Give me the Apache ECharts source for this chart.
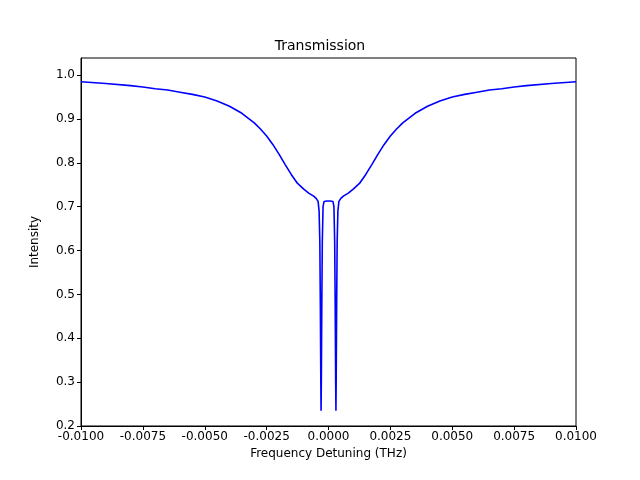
<!DOCTYPE html>
<html><head><meta charset="utf-8">
<script src="https://cdn.jsdelivr.net/npm/echarts@6/dist/echarts.min.js"></script>
<style>html,body{margin:0;padding:0;background:#fff}#c{width:640px;height:480px}</style>
</head><body><div id="c"></div>
<script>
const freq = [-0.01,-0.009,-0.008,-0.0075,-0.007,-0.0065,-0.006,-0.0055,-0.005,-0.0045,-0.004,-0.0035,-0.003,-0.00275,-0.0025,-0.00225,-0.002,-0.00175,-0.0015,-0.00125,-0.001,-0.0008,-0.0006,-0.0005,-0.00042,-0.00038,-0.00035,-0.00033,-0.00031,-0.0003,-0.00029,-0.00027,-0.00025,-0.00022,-0.00018,-0.00012,-0.00006,0,
0.00006,0.00012,0.00018,0.00022,0.00025,0.00027,0.00029,0.0003,0.00031,0.00033,0.00035,0.00038,0.00042,0.0005,0.0006,0.0008,0.001,0.00125,0.0015,0.00175,0.002,0.00225,0.0025,0.00275,0.003,0.0035,0.004,0.0045,0.005,0.0055,0.006,0.0065,0.007,0.0075,0.008,0.009,0.01];
const intensity = [0.985,0.981,0.976,0.973,0.969,0.966,0.961,0.956,0.950,0.941,0.929,0.913,0.891,0.877,0.861,0.842,0.820,0.796,0.773,0.753,0.740,0.731,0.724,0.719,0.712,0.69,0.62,0.48,0.30,0.235,0.30,0.48,0.62,0.70,0.712,0.714,0.713,0.712,
0.713,0.714,0.712,0.70,0.62,0.48,0.30,0.235,0.30,0.48,0.62,0.69,0.712,0.719,0.724,0.731,0.740,0.753,0.773,0.796,0.820,0.842,0.861,0.877,0.891,0.913,0.929,0.941,0.950,0.956,0.961,0.966,0.969,0.973,0.976,0.981,0.985];
const data = freq.map((f,i)=>[f,intensity[i]]);
const ax = {color:'#000',fontSize:12,fontFamily:'DejaVu Sans'};
const chart = echarts.init(document.getElementById('c'));
chart.setOption({
  animation:false,
  title:{text:'Transmission',left:'center',top:34,textStyle:{fontWeight:'normal',fontSize:14,color:'#000',fontFamily:'DejaVu Sans'}},
  grid:{left:81,right:64,top:58,bottom:54,show:true,borderColor:'#000',borderWidth:1},
  xAxis:{type:'value',min:-0.01,max:0.01,interval:0.0025,name:'Frequency Detuning (THz)',nameLocation:'middle',nameGap:22,nameTextStyle:ax,
    axisLine:{onZero:false,lineStyle:{color:'#000'}},axisTick:{inside:false,length:4,lineStyle:{color:'#000'}},splitLine:{show:false},
    axisLabel:Object.assign({margin:5,formatter:v=>v.toFixed(4)},ax)},
  yAxis:{type:'value',min:0.2,max:1.039,interval:0.1,name:'Intensity',nameLocation:'middle',nameGap:40,nameTextStyle:ax,
    axisLine:{show:true,onZero:false,lineStyle:{color:'#000'}},axisTick:{show:true,length:4,lineStyle:{color:'#000'}},splitLine:{show:false},
    axisLabel:Object.assign({margin:6,showMaxLabel:false,formatter:v=>v.toFixed(1)},ax)},
  series:[{type:'line',data:data,showSymbol:false,smooth:false,lineStyle:{color:'#0000ff',width:1.6}}]
});
</script></body></html>
